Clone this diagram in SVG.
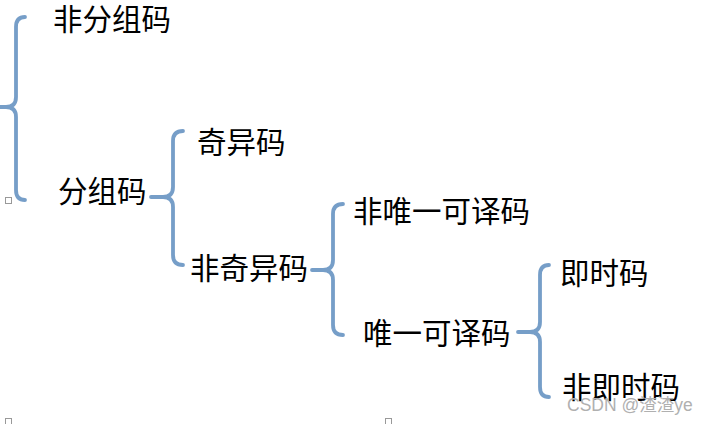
<svg xmlns="http://www.w3.org/2000/svg" width="711" height="424" viewBox="0 0 711 424">
<style>
.br{fill:none;stroke:#769ec8;stroke-width:3.8;stroke-linecap:round;stroke-linejoin:round}
.t{font-family:"Noto Sans CJK SC","Liberation Sans",sans-serif;font-size:29.5px;fill:#000}
.h{fill:#fff;stroke:#999;stroke-width:1}
.wm{font-family:"Liberation Sans","Noto Sans CJK SC",sans-serif;font-size:17.5px;fill:#b0b0b0}
</style>
<rect width="711" height="424" fill="#fff"/>
<g id="connectors">
<path class="br" d="M25,17 Q16,17 16,27 V97 Q16,107 6,107 H0 M6,107 Q16,107 16,117 V190 Q16,200 25,200"/>
<path class="br" d="M183,131 Q173,131 173,141 V187 Q173,197 163,197 H151 M163,197 Q173,197 173,207 V255 Q173,265 183,265"/>
<path class="br" d="M343,204 Q333,204 333,214 V260 Q333,270 323,270 H312 M323,270 Q333,270 333,280 V325 Q333,335 343,335"/>
<path class="br" d="M549,265 Q540,265 540,275 V322 Q540,332 530,332 H518 M530,332 Q540,332 540,342 V387 Q540,397 549,397"/>
</g>
<g id="n1"><text class="t" x="53" y="30">非分组码</text></g>
<g id="n2"><text class="t" x="58" y="202">分组码</text></g>
<g id="n3"><text class="t" x="197" y="152.5">奇异码</text></g>
<g id="n4"><text class="t" x="190" y="278.5">非奇异码</text></g>
<g id="n5"><text class="t" x="353" y="222">非唯一可译码</text></g>
<g id="n6"><text class="t" x="363" y="344">唯一可译码</text></g>
<g id="n7"><text class="t" x="560" y="284">即时码</text></g>
<g id="n8"><text class="t" x="562" y="398">非即时码</text></g>
<rect class="h" x="5.5" y="197.5" width="6" height="6"/>
<rect class="h" x="5.5" y="418.5" width="6" height="6"/>
<rect class="h" x="385.5" y="418.5" width="6" height="6"/>
<text class="wm" x="567" y="411">CSDN @渣渣ye</text>
</svg>
